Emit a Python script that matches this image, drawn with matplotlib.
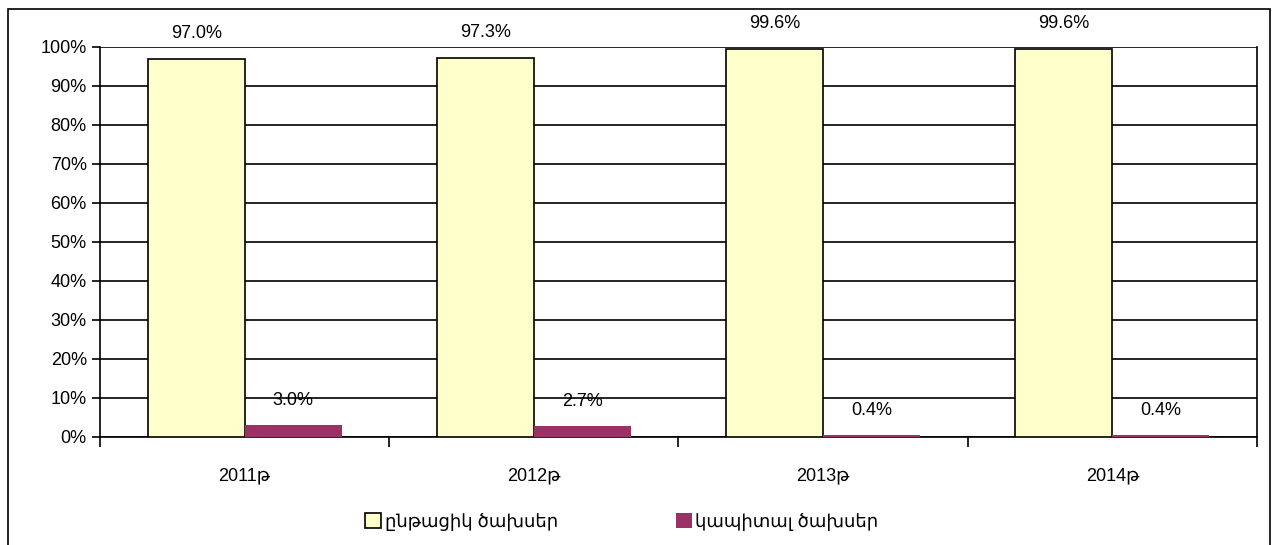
import matplotlib.pyplot as plt
import numpy as np
from matplotlib.patches import Rectangle

plt.rcParams['font.family'] = ['Liberation Sans', 'DejaVu Sans']

years = ['2011թ', '2012թ', '2013թ', '2014թ']
current = [97.0, 97.3, 99.6, 99.6]
capital = [3.0, 2.7, 0.4, 0.4]
series_names = ['ընթացիկ ծախսեր', 'կապիտալ ծախսեր']

fig = plt.figure(figsize=(12.77, 5.45), dpi=100)
ax = fig.add_axes([0.0783, 0.1982, 0.9060, 0.7156])

x = np.arange(len(years))
w = 0.335
b1 = ax.bar(x - w / 2, current, w, color='#FFFFCC', edgecolor='black', linewidth=1.2,
            label=series_names[0], zorder=3)
b2 = ax.bar(x + w / 2, capital, w, color='#993366', edgecolor='none',
            label=series_names[1], zorder=3)

# value labels
for bars, vals in ((b1, current), (b2, capital)):
    for r, v in zip(bars, vals):
        ax.annotate('%.1f%%' % v, (r.get_x() + r.get_width() / 2, r.get_height()),
                    xytext=(0, 18), textcoords='offset points',
                    ha='center', va='center', fontsize=13, clip_on=False)

ax.set_xlim(-0.5, 3.5)
ax.set_ylim(0, 100)
ax.set_yticks(range(0, 101, 10))
ax.set_yticklabels(['%d%%' % v for v in range(0, 101, 10)], fontsize=13)
ax.yaxis.grid(True, color='black', linewidth=1.2, zorder=1)
ax.set_axisbelow(True)

# category labels between boundary ticks
ax.set_xticks([-0.5, 0.5, 1.5, 2.5, 3.5])
ax.set_xticklabels([])
ax.set_xticks(x, minor=True)
ax.set_xticklabels(years, minor=True, fontsize=13)
ax.tick_params(axis='x', which='major', direction='out', length=7, width=1.2)
ax.tick_params(axis='x', which='minor', length=0, pad=22)
ax.tick_params(axis='y', direction='out', length=6, width=1.2)

for s in ('left', 'bottom', 'right'):
    ax.spines[s].set_linewidth(1.2)
ax.spines['top'].set_visible(False)

fig.legend(handles=[b1, b2], labels=series_names, loc='center',
           bbox_to_anchor=(0.487, 0.042), ncol=2, frameon=False, fontsize=13,
           handlelength=0.9, handleheight=0.9, handletextpad=0.2, columnspacing=6.5)

# outer frame
fig.add_artist(Rectangle((8 / 1277, -0.01), 1262 / 1277, 1 - 9 / 545 + 0.01,
                         transform=fig.transFigure, fill=False,
                         edgecolor='black', linewidth=1.2))

fig.savefig('out.png', dpi=100)
